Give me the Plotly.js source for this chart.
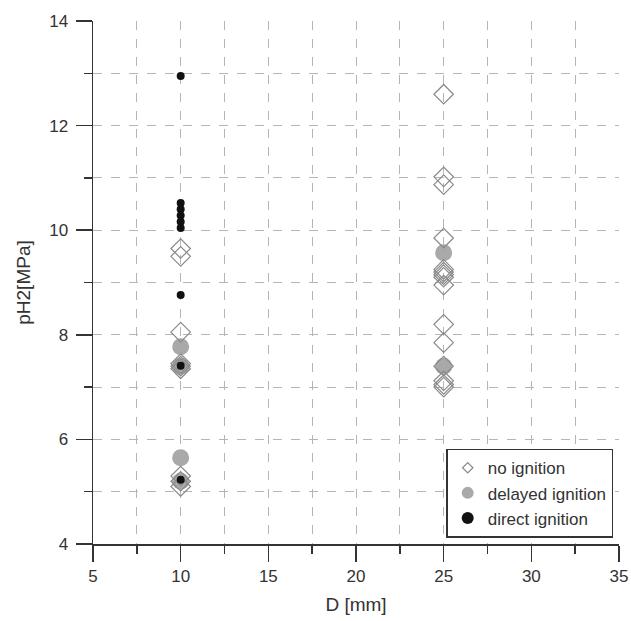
<!DOCTYPE html>
<html>
<head>
<meta charset="utf-8">
<script src="https://cdn.plot.ly/plotly-3.0.1.min.js"></script>
<style>html,body{margin:0;padding:0;background:#fff;}#chart{width:631px;height:621px;}</style>
</head>
<body>
<div id="chart"></div>
<script>
// D [mm] and pH2 [MPa] values
const noIgnD   = [10, 10, 10, 10, 10, 10, 10, 10, 10,
                  25, 25, 25, 25, 25, 25, 25, 25, 25, 25, 25, 25, 25, 25, 25];
const noIgnP   = [9.65, 9.5, 8.05, 7.45, 7.4, 7.35, 5.3, 5.2, 5.1,
                  12.6, 11.02, 10.87, 9.85, 9.25, 9.2, 9.15, 9.1, 8.95, 8.2, 7.85, 7.4, 7.12, 7.05, 7.0];
const delayedD = [10, 10, 10, 10, 25, 25];
const delayedP = [7.77, 7.4, 5.65, 5.2, 9.57, 7.4];
const directD  = [10, 10, 10, 10, 10, 10, 10, 10, 10];
const directP  = [12.95, 10.52, 10.4, 10.28, 10.16, 10.04, 8.76, 7.41, 5.23];
const seriesNames = ['no ignition', 'delayed ignition', 'direct ignition'];

const FONT = 'Liberation Sans, Arial, Helvetica, sans-serif';
const diamondStyle = {symbol: 'diamond-open', color: '#8a8a8a', line: {width: 1.2, color: '#8a8a8a'}};
const greyStyle = {symbol: 'circle', color: '#a9a9a9', line: {width: 0}};
const blackStyle = {symbol: 'circle', color: '#111111', line: {width: 0}};

const traces = [
  {x: delayedD, y: delayedP, name: seriesNames[1], type: 'scatter', mode: 'markers', showlegend: false,
   marker: Object.assign({size: 17}, greyStyle)},
  {x: noIgnD, y: noIgnP, name: seriesNames[0], type: 'scatter', mode: 'markers', showlegend: false,
   marker: Object.assign({size: 15}, diamondStyle)},
  {x: directD, y: directP, name: seriesNames[2], type: 'scatter', mode: 'markers', showlegend: false,
   marker: Object.assign({size: 8}, blackStyle)},
  // legend entries (smaller symbols, as in the reference legend)
  {x: [null], y: [null], name: seriesNames[0], type: 'scatter', mode: 'markers', legendrank: 1,
   marker: Object.assign({size: 8}, diamondStyle)},
  {x: [null], y: [null], name: seriesNames[1], type: 'scatter', mode: 'markers', legendrank: 2,
   marker: Object.assign({size: 12}, greyStyle)},
  {x: [null], y: [null], name: seriesNames[2], type: 'scatter', mode: 'markers', legendrank: 3,
   marker: Object.assign({size: 12}, blackStyle)}
];

const layout = {
  width: 631, height: 621,
  margin: {l: 93, r: 12, t: 21, b: 77},
  paper_bgcolor: '#ffffff', plot_bgcolor: '#ffffff',
  font: {family: FONT, color: '#333333', size: 17},
  showlegend: true,
  legend: {
    x: 0.989, y: 0.012, xanchor: 'right', yanchor: 'bottom',
    bgcolor: '#ffffff', bordercolor: '#333333', borderwidth: 1.5,
    font: {family: FONT, size: 17, color: '#333333'},
    tracegroupgap: 0, itemwidth: 30
  },
  xaxis: {
    range: [5, 35], dtick: 5, tick0: 5,
    showline: true, linecolor: '#333333', linewidth: 1.5,
    ticks: 'outside', ticklen: 16, tickwidth: 1.5, tickcolor: '#333333',
    showgrid: true, gridcolor: '#b5b5b5', griddash: 'dash', gridwidth: 1,
    zeroline: false, mirror: false,
    minor: {dtick: 2.5, tick0: 5, ticks: 'outside', ticklen: 8, tickwidth: 1.5, tickcolor: '#333333',
            showgrid: true, gridcolor: '#b5b5b5', griddash: 'dash', gridwidth: 1},
    tickfont: {family: FONT, size: 17, color: '#333333'},
    title: {text: 'D [mm]', font: {family: FONT, size: 19, color: '#333333'}, standoff: 13}
  },
  yaxis: {
    range: [4, 14], dtick: 2, tick0: 4,
    showline: true, linecolor: '#333333', linewidth: 1.5,
    ticks: 'outside', ticklen: 16, tickwidth: 1.5, tickcolor: '#333333',
    showgrid: true, gridcolor: '#b5b5b5', griddash: 'dash', gridwidth: 1,
    zeroline: false, mirror: false,
    minor: {dtick: 1, tick0: 4, ticks: 'outside', ticklen: 8, tickwidth: 1.5, tickcolor: '#333333',
            showgrid: true, gridcolor: '#b5b5b5', griddash: 'dash', gridwidth: 1},
    tickfont: {family: FONT, size: 17, color: '#333333'},
    ticklabelstandoff: 4,
    title: {text: 'pH2[MPa]', font: {family: FONT, size: 19, color: '#333333'}, standoff: 13}
  }
};

Plotly.newPlot('chart', traces, layout, {displayModeBar: false, staticPlot: true});
</script>
</body>
</html>
